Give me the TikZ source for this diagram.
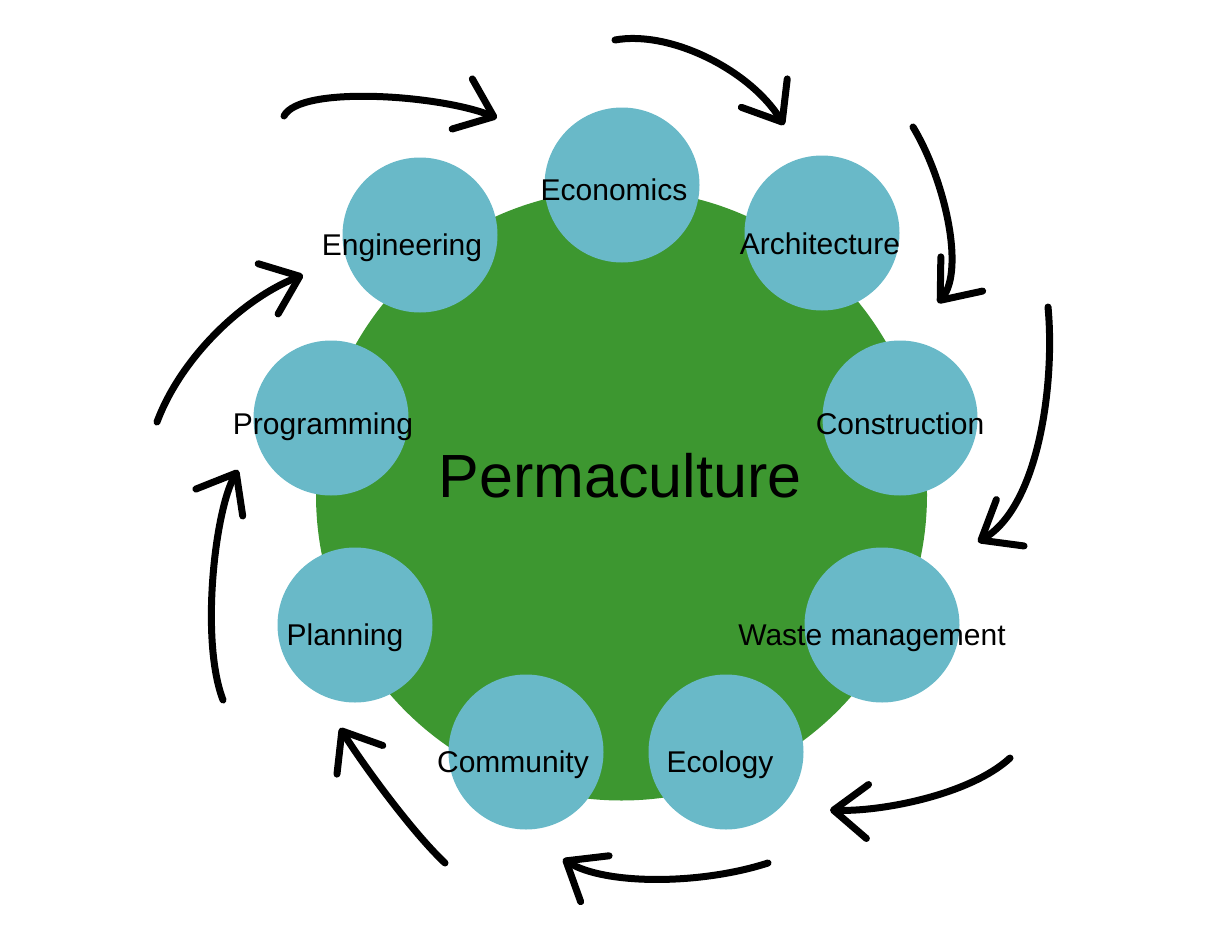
\documentclass[tikz,border=0pt]{standalone}
\usepackage{fontspec}
\setmainfont{Liberation Sans}
\usetikzlibrary{arrows.meta}
\definecolor{leaf}{RGB}{61,151,48}
\definecolor{pond}{RGB}{105,185,200}

\begin{document}
\begin{tikzpicture}[x=1pt, y=-1pt,
  >={Straight Barb[length=34pt,width=54pt,round]},
  topic/.style={circle, fill=pond, minimum size=155pt, inner sep=0pt},
  word/.style={anchor=base, inner sep=0pt, font=\fontsize{30}{36}\selectfont},
  cyc/.style={->, line width=7pt, line cap=round}]
%%
  \useasboundingbox (0,0) rectangle (1232,950);
  \node (perma) at (621.5,495) [circle, fill=leaf, minimum size=611pt, inner sep=0pt] {};
  \node (econ) at (622,185) [topic] {};
  \node (arch) at (822,233) [topic] {};
  \node (cons) at (900,418) [topic] {};
  \node (waste) at (882,625) [topic] {};
  \node (eco) at (726,752) [topic] {};
  \node (comm) at (526,752) [topic] {};
  \node (plan) at (355,625) [topic] {};
  \node (prog) at (331,418) [topic] {};
  \node (eng) at (420,235) [topic] {};
  \node (permaword) at (620,497) [anchor=base, font=\fontsize{61}{72}\selectfont] {Permaculture};
  \node (econword) at (614,200) [word] {Economics};
  \node (archword) at (820,254) [word] {Architecture};
  \node (consword) at (900,434) [word] {Construction};
  \node (wasteword) at (872,645) [word] {Waste management};
  \node (ecoword) at (720,772) [word] {Ecology};
  \node (commword) at (513,772) [word] {Community};
  \node (planword) at (345,645) [word] {Planning};
  \node (progword) at (323,434) [word] {Programming};
  \node (engword) at (402,255) [word] {Engineering};
%
  \coordinate (c1a) at (284,116);  \coordinate (c1b) at (497,118);
  \coordinate (c2a) at (615,40);   \coordinate (c2b) at (784,125);
  \coordinate (c3a) at (913,127);  \coordinate (c3b) at (938,303);
  \coordinate (c4a) at (1048,307); \coordinate (c4b) at (978,542);
  \coordinate (c5a) at (1010,758); \coordinate (c5b) at (830,810);
  \coordinate (c6a) at (768,863);  \coordinate (c6b) at (563,859);
  \coordinate (c7a) at (445,863);  \coordinate (c7b) at (340,728);
  \coordinate (c8a) at (223,700);  \coordinate (c8b) at (238,470);
  \coordinate (c9a) at (157,422);  \coordinate (c9b) at (303,275);
  \draw [cyc] (c1a) ..controls (300,85) and (440,95) .. (c1b);
  \draw [cyc] (c2a) ..controls (670,30) and (750,70) .. (c2b);
  \draw [cyc] (c3a) ..controls (945,180) and (965,270) .. (c3b);
  \draw [cyc] (c4a) ..controls (1055,380) and (1040,505) .. (c4b);
  \draw [cyc] (c5a) ..controls (970,795) and (880,812) .. (c5b);
  \draw [cyc] (c6a) ..controls (700,885) and (605,885) .. (c6b);
  \draw [cyc] (c7a) ..controls (410,830) and (360,760) .. (c7b);
  \draw [cyc] (c8a) ..controls (200,640) and (215,510) .. (c8b);
  \draw [cyc] (c9a) ..controls (180,360) and (240,300) .. (c9b);
%
\end{tikzpicture}
\end{document}
